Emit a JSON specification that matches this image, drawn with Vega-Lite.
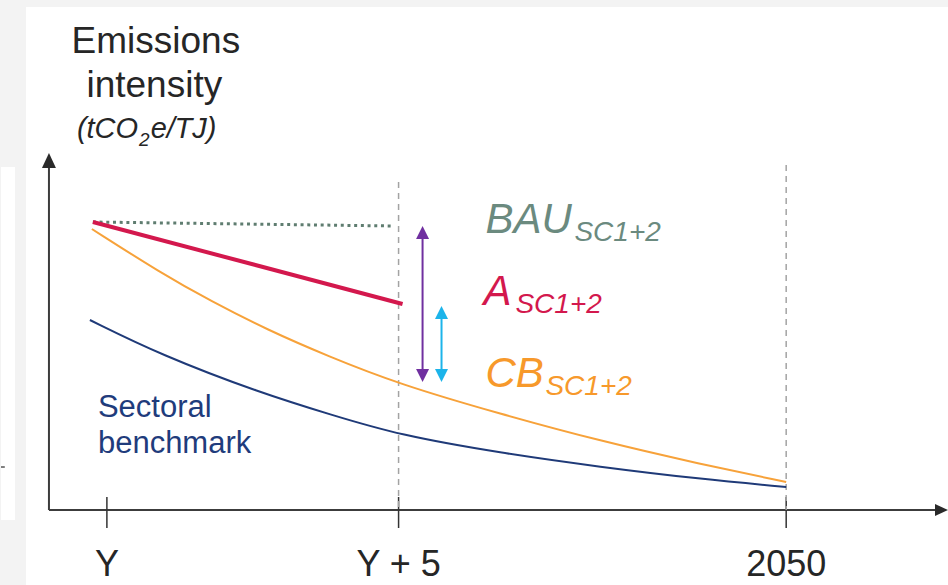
{
  "$schema": "https://vega.github.io/schema/vega-lite/v6.json",
  "width": 948,
  "height": 585,
  "autosize": {"type": "fit", "contains": "padding"},
  "padding": 0,
  "background": "#f3f3f3",
  "config": {"view": {"stroke": null}, "font": "Liberation Sans"},
  "encoding": {
    "x": {"field": "x", "type": "quantitative", "scale": {"domain": [-1.8151, 14.4178], "nice": false, "zero": false}, "axis": null},
    "y": {"field": "y", "type": "quantitative", "scale": {"domain": [-25, 170], "nice": false, "zero": false}, "axis": null}
  },
  "layer": [
    {
      "data": {"values": [
        {"panel": "main", "x": -1.387, "x2": 14.4178, "y": 167.67, "y2": -25},
        {"panel": "side", "x": -1.8151, "x2": -1.575, "y": 114.33, "y2": -3.33}
      ]},
      "mark": {"type": "rect", "fill": "#ffffff"},
      "encoding": {"x2": {"field": "x2"}, "y2": {"field": "y2"}}
    },
    {
      "data": {"values": [{"x": -1.8151, "x2": -1.75, "y": 14.33, "y2": 14.33}]},
      "mark": {"type": "rule", "color": "#555555", "strokeWidth": 1.5},
      "encoding": {"x2": {"field": "x2"}, "y2": {"field": "y2"}}
    },
    {
      "data": {"values": [
        {"axis": "y", "x": -0.993, "x2": -0.993, "y": 0, "y2": 114.5},
        {"axis": "x", "x": -0.993, "x2": 14.2, "y": 0, "y2": 0}
      ]},
      "mark": {"type": "rule", "color": "#3c3c3c", "strokeWidth": 2},
      "encoding": {"x2": {"field": "x2"}, "y2": {"field": "y2"}}
    },
    {
      "data": {"values": [{"x": -0.993, "y": 116.5}]},
      "mark": {"type": "point", "filled": true, "opacity": 1, "color": "#2a2a2a", "shape": "M0,-1L-0.93,1L0.93,1Z", "size": 225}
    },
    {
      "data": {"values": [{"x": 14.306, "y": 0}]},
      "mark": {"type": "point", "filled": true, "opacity": 1, "color": "#2a2a2a", "shape": "M1,0L-1,-0.93L-1,0.93Z", "size": 169}
    },
    {
      "data": {"values": [
        {"tick": "Y", "x": 0, "y": 4.33, "y2": -6},
        {"tick": "Y + 5", "x": 5, "y": 4.33, "y2": -6},
        {"tick": "2050", "x": 11.644, "y": 4.33, "y2": -6}
      ]},
      "mark": {"type": "rule", "color": "#333333", "strokeWidth": 1.5},
      "encoding": {"y2": {"field": "y2"}}
    },
    {
      "data": {"values": [
        {"x": 5.0, "y": 109.33, "y2": 0},
        {"x": 11.644, "y": 115, "y2": 0}
      ]},
      "mark": {"type": "rule", "color": "#a3a3a3", "strokeWidth": 1.5, "strokeDash": [6, 5]},
      "encoding": {"y2": {"field": "y2"}}
    },
    {
      "data": {"values": [
        {"series": "CB", "x": -0.257, "y": 93.67},
        {"series": "CB", "x": 0.925, "y": 79.0},
        {"series": "CB", "x": 1.781, "y": 69.67},
        {"series": "CB", "x": 2.757, "y": 60.0},
        {"series": "CB", "x": 3.784, "y": 51.33},
        {"series": "CB", "x": 5.0, "y": 42.0},
        {"series": "CB", "x": 6.747, "y": 32.0},
        {"series": "CB", "x": 8.459, "y": 23.0},
        {"series": "CB", "x": 10.171, "y": 15.33},
        {"series": "CB", "x": 11.644, "y": 9.33}
      ]},
      "mark": {"type": "line", "color": "#f7a23a", "strokeWidth": 2, "interpolate": "basis"}
    },
    {
      "data": {"values": [
        {"series": "Sectoral", "x": -0.291, "y": 63.33},
        {"series": "Sectoral", "x": 0.925, "y": 51.67},
        {"series": "Sectoral", "x": 2.637, "y": 39.0},
        {"series": "Sectoral", "x": 3.836, "y": 31.8},
        {"series": "Sectoral", "x": 5.0, "y": 25.0},
        {"series": "Sectoral", "x": 6.747, "y": 19.0},
        {"series": "Sectoral", "x": 8.459, "y": 14.33},
        {"series": "Sectoral", "x": 10.171, "y": 10.33},
        {"series": "Sectoral", "x": 11.644, "y": 7.67}
      ]},
      "mark": {"type": "line", "color": "#1f3a78", "strokeWidth": 2, "interpolate": "basis"}
    },
    {
      "data": {"values": [
        {"series": "BAU", "x": -0.24, "y": 96.0},
        {"series": "BAU", "x": 4.914, "y": 94.67}
      ]},
      "mark": {"type": "line", "color": "#5f7d70", "strokeWidth": 3, "strokeDash": [3, 3.7]}
    },
    {
      "data": {"values": [
        {"series": "A", "x": -0.24, "y": 96.0},
        {"series": "A", "x": 5.068, "y": 68.67}
      ]},
      "mark": {"type": "line", "color": "#d3184d", "strokeWidth": 4}
    },
    {
      "data": {"values": [
        {"arrow": "BAU–CB", "x": 5.411, "y": 92.5, "y2": 44.83},
        {"arrow": "A–CB", "x": 5.736, "y": 65.83, "y2": 44.83}
      ]},
      "mark": {"type": "rule", "strokeWidth": 2},
      "encoding": {
        "y2": {"field": "y2"},
        "color": {"field": "arrow", "type": "nominal", "scale": {"domain": ["BAU–CB", "A–CB"], "range": ["#7030a0", "#1cb4ea"]}, "legend": null}
      }
    },
    {
      "data": {"values": [
        {"arrow": "BAU–CB", "x": 5.411, "y": 92.5},
        {"arrow": "A–CB", "x": 5.736, "y": 65.83}
      ]},
      "mark": {"type": "point", "filled": true, "opacity": 1, "shape": "M0,-1L-1,1L1,1Z", "size": 169},
      "encoding": {"color": {"field": "arrow", "type": "nominal", "legend": null}}
    },
    {
      "data": {"values": [
        {"arrow": "BAU–CB", "x": 5.411, "y": 44.83},
        {"arrow": "A–CB", "x": 5.736, "y": 44.83}
      ]},
      "mark": {"type": "point", "filled": true, "opacity": 1, "shape": "M0,1L-1,-1L1,-1Z", "size": 169},
      "encoding": {"color": {"field": "arrow", "type": "nominal", "legend": null}}
    },
    {
      "data": {"values": [
        {"label": "Emissions", "x": 0.839, "y": 152.33},
        {"label": "intensity", "x": 0.813, "y": 137.67}
      ]},
      "mark": {"type": "text", "fontSize": 37, "color": "#262626", "align": "center", "baseline": "alphabetic"},
      "encoding": {"text": {"field": "label"}}
    },
    {
      "data": {"values": [
        {"label": "(tCO", "x": -0.514, "y": 124},
        {"label": "e/", "x": 0.75, "y": 124},
        {"label": "TJ)", "x": 1.16, "y": 124}
      ]},
      "mark": {"type": "text", "fontSize": 29, "fontStyle": "italic", "color": "#262626", "align": "left", "baseline": "alphabetic"},
      "encoding": {"text": {"field": "label"}}
    },
    {
      "data": {"values": [{"label": "2", "x": 0.55, "y": 121.3}]},
      "mark": {"type": "text", "fontSize": 19, "fontStyle": "italic", "color": "#262626", "align": "left", "baseline": "alphabetic"},
      "encoding": {"text": {"field": "label"}}
    },
    {
      "data": {"values": [
        {"label": "Y", "x": 0, "y": -22},
        {"label": "Y + 5", "x": 5, "y": -22},
        {"label": "2050", "x": 11.644, "y": -22}
      ]},
      "mark": {"type": "text", "fontSize": 36, "color": "#262626", "align": "center", "baseline": "alphabetic"},
      "encoding": {"text": {"field": "label"}}
    },
    {
      "data": {"values": [{"label": "BAU", "x": 6.49, "y": 92.33}]},
      "mark": {"type": "text", "fontSize": 42, "fontStyle": "italic", "color": "#6b8a7f", "align": "left", "baseline": "alphabetic"},
      "encoding": {"text": {"field": "label"}}
    },
    {
      "data": {"values": [{"label": "SC1+2", "x": 8.014, "y": 89.67}]},
      "mark": {"type": "text", "fontSize": 28, "fontStyle": "italic", "color": "#6b8a7f", "align": "left", "baseline": "alphabetic"},
      "encoding": {"text": {"field": "label"}}
    },
    {
      "data": {"values": [{"label": "A", "x": 6.455, "y": 68.33}]},
      "mark": {"type": "text", "fontSize": 42, "fontStyle": "italic", "color": "#d3184d", "align": "left", "baseline": "alphabetic"},
      "encoding": {"text": {"field": "label"}}
    },
    {
      "data": {"values": [{"label": "SC1+2", "x": 7.003, "y": 65.67}]},
      "mark": {"type": "text", "fontSize": 28, "fontStyle": "italic", "color": "#d3184d", "align": "left", "baseline": "alphabetic"},
      "encoding": {"text": {"field": "label"}}
    },
    {
      "data": {"values": [{"label": "CB", "x": 6.49, "y": 41.0}]},
      "mark": {"type": "text", "fontSize": 42, "fontStyle": "italic", "color": "#f7992b", "align": "left", "baseline": "alphabetic"},
      "encoding": {"text": {"field": "label"}}
    },
    {
      "data": {"values": [{"label": "SC1+2", "x": 7.517, "y": 38.33}]},
      "mark": {"type": "text", "fontSize": 28, "fontStyle": "italic", "color": "#f7992b", "align": "left", "baseline": "alphabetic"},
      "encoding": {"text": {"field": "label"}}
    },
    {
      "data": {"values": [
        {"label": "Sectoral", "x": -0.154, "y": 31.0},
        {"label": "benchmark", "x": -0.154, "y": 19.0}
      ]},
      "mark": {"type": "text", "fontSize": 31, "color": "#1f3c7c", "align": "left", "baseline": "alphabetic"},
      "encoding": {"text": {"field": "label"}}
    }
  ]
}
